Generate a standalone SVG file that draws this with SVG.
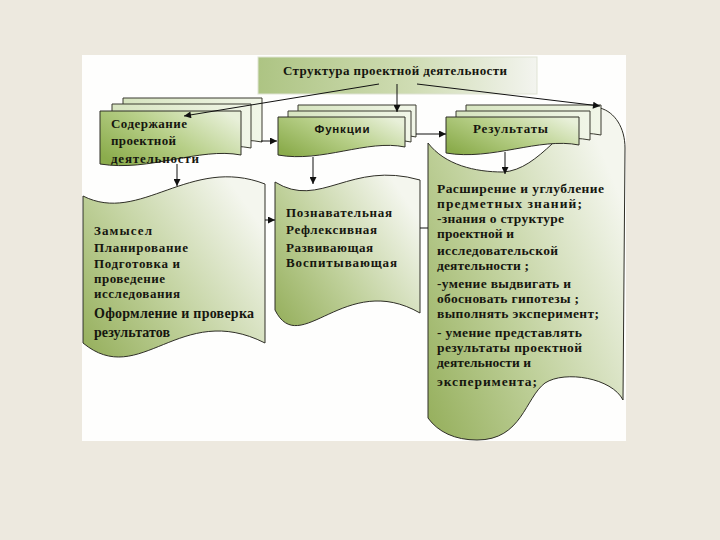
<svg xmlns="http://www.w3.org/2000/svg" width="720" height="540" viewBox="0 0 720 540">
  <style>
    .t { font-family: "Liberation Serif", "Times New Roman", serif; font-weight: bold; font-size: 13px; fill: #16160f; }
    .tr { font-size: 13.5px; }
    .ts { font-family: "Liberation Sans", Arial, sans-serif; font-weight: bold; font-size: 11.5px; fill: #16160f; }
    .big { fill: url(#gBig); stroke: #2e2e26; stroke-width: 1; }
    .front { fill: url(#gFront); stroke: #2e2e26; stroke-width: 1; }
    .back { fill: url(#gBack); stroke: #3a3a30; stroke-width: 1; }
    .con { stroke: #111; stroke-width: 1; fill: none; }
  </style>
  <defs>
    <linearGradient id="gBig" x1="0" y1="1" x2="1" y2="0.3">
      <stop offset="0" stop-color="#94ae5a"/>
      <stop offset="0.45" stop-color="#bfd09a"/>
      <stop offset="1" stop-color="#f4f6ee"/>
    </linearGradient>
    <linearGradient id="gFront" x1="0" y1="0.8" x2="1" y2="0.2">
      <stop offset="0" stop-color="#8bac4c"/>
      <stop offset="0.5" stop-color="#b7cf88"/>
      <stop offset="1" stop-color="#e8f0d9"/>
    </linearGradient>
    <linearGradient id="gBack" x1="0" y1="0" x2="1" y2="0">
      <stop offset="0" stop-color="#d6e4bf"/>
      <stop offset="1" stop-color="#f1f6e8"/>
    </linearGradient>
    <linearGradient id="gTitle" x1="0" y1="0" x2="1" y2="0">
      <stop offset="0" stop-color="#adc483"/>
      <stop offset="0.55" stop-color="#cfdcb3"/>
      <stop offset="1" stop-color="#f3f4ef"/>
    </linearGradient>
    <marker id="ah" viewBox="0 0 10 10" refX="10" refY="5" markerWidth="8" markerHeight="7" orient="auto" markerUnits="userSpaceOnUse">
      <path d="M0,0 L10,5 L0,10 z" fill="#111"/>
    </marker>
  </defs>

  <rect x="0" y="0" width="720" height="540" fill="#ede9df"/>
  <rect x="82" y="55" width="544" height="386" fill="#fefefd"/>

  <g id="rezultaty-content">
    <path class="big" d="M428,143 C 445,165 475,172 503,172 C 540,170 565,120 600,108 C 615,112 625,128 625,148 L623,400 C 612,378 565,370 545,383 C 525,398 522,440 477,440 C 455,440 438,432 428,418 Z"/>
    <text class="t tr" x="437" y="193" textLength="167">Расширение и углубление</text>
    <text class="t tr" x="437" y="208" textLength="145">предметных знаний;</text>
    <text class="t tr" x="437" y="223" textLength="127">-знания о структуре</text>
    <text class="t tr" x="437" y="238" textLength="77">проектной и</text>
    <text class="t tr" x="437" y="255" textLength="121">исследовательской</text>
    <text class="t tr" x="437" y="270" textLength="92">деятельности ;</text>
    <text class="t tr" x="437" y="288" textLength="134">-умение выдвигать и</text>
    <text class="t tr" x="437" y="303" textLength="142">обосновать гипотезы ;</text>
    <text class="t tr" x="437" y="318" textLength="162">выполнять эксперимент;</text>
    <text class="t tr" x="437" y="337" textLength="145">- умение представлять</text>
    <text class="t tr" x="437" y="352" textLength="145">результаты проектной</text>
    <text class="t tr" x="437" y="367" textLength="94">деятельности и</text>
    <text class="t tr" x="437" y="386" textLength="100">эксперимента;</text>
  </g>

  <g id="zamysel">
    <path class="big" d="M83,196 C 140,225 190,155 265,184 L265,343 C 180,300 140,390 83,343 Z"/>
    <text class="t" x="94" y="235" textLength="58">Замысел</text>
    <text class="t" x="94" y="252" textLength="94">Планирование</text>
    <text class="t" x="94" y="268" textLength="86">Подготовка и</text>
    <text class="t" x="94" y="283" textLength="71">проведение</text>
    <text class="t" x="94" y="298" textLength="86">исследования</text>
    <text class="t" x="94" y="318" textLength="160" style="font-size:14px">Оформление и проверка</text>
    <text class="t" x="94" y="337" textLength="76" style="font-size:14px">результатов</text>
  </g>

  <g id="poznavatelnaya">
    <path class="big" d="M275,182 C 320,210 350,160 420,180 L420,313 C 345,270 300,360 275,310 Z"/>
    <text class="t" x="286" y="217" textLength="106">Познавательная</text>
    <text class="t" x="286" y="234" textLength="91">Рефлексивная</text>
    <text class="t" x="286" y="252" textLength="87">Развивающая</text>
    <text class="t" x="286" y="267" textLength="111">Воспитывающая</text>
  </g>

  <g id="soderzhanie">
    <path class="back" d="M123,98 H262 V142 C 220,134 175,158 123,151 Z"/>
    <path class="back" d="M112,104 H251 V148 C 210,140 165,164 112,158 Z"/>
    <path class="front" d="M100,111 H241 V155 C 199,147 150,172 100,164 Z"/>
    <text class="t" x="111" y="128" textLength="76">Содержание</text>
    <text class="t" x="111" y="145" textLength="65">проектной</text>
    <text class="t" x="111" y="163" textLength="88">деятельности</text>
  </g>

  <g id="funktsii">
    <path class="back" d="M298,105 H416 V137 C 380,129 340,153 298,145 Z"/>
    <path class="back" d="M288,111 H411 V142 C 374,134 333,158 288,150 Z"/>
    <path class="front" d="M278,117 H405 V147 C 367,139 322,163 278,155 Z"/>
    <text class="ts" x="342" y="133" text-anchor="middle" textLength="55">Функции</text>
  </g>

  <g id="rezultaty">
    <path class="back" d="M466,105 H601 V135 C 561,127 514,151 466,143 Z"/>
    <path class="back" d="M456,111 H590 V140 C 550,132 503,156 456,148 Z"/>
    <path class="front" d="M446,117 H579 V145 C 539,137 492,161 446,153 Z"/>
    <text class="t" x="473" y="133" textLength="75">Результаты</text>
  </g>

  <g id="title">
    <rect x="258" y="57" width="279" height="37" fill="url(#gTitle)" stroke="#dfe3d4" stroke-width="1"/>
    <text class="t" x="283" y="75" textLength="224">Структура проектной деятельности</text>
  </g>

  <g id="connectors" class="con">
    <line x1="379" y1="84" x2="184" y2="116" marker-end="url(#ah)"/>
    <line x1="397" y1="84" x2="397" y2="112" marker-end="url(#ah)"/>
    <line x1="417" y1="84" x2="600" y2="106" marker-end="url(#ah)"/>
    <line x1="261" y1="141" x2="277" y2="141" marker-end="url(#ah)"/>
    <line x1="416" y1="134" x2="446" y2="134" marker-end="url(#ah)"/>
    <line x1="177" y1="164" x2="177" y2="186" marker-end="url(#ah)"/>
    <line x1="313" y1="157" x2="313" y2="184" marker-end="url(#ah)"/>
    <line x1="505" y1="152" x2="505" y2="174" marker-end="url(#ah)"/>
    <line x1="265" y1="220" x2="275" y2="220" marker-end="url(#ah)"/>
    <line x1="420" y1="228" x2="428" y2="228"/>
  </g>
</svg>
